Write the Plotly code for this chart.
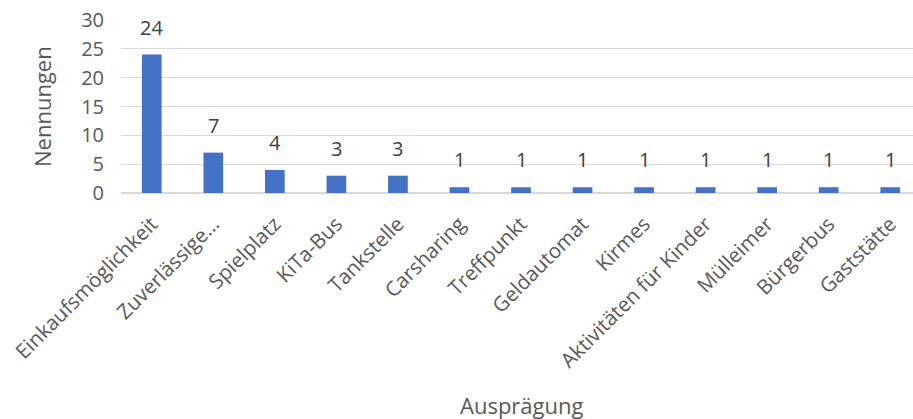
import plotly.graph_objects as go

categories = ["Einkaufsmöglichkeit", "Zuverlässige…", "Spielplatz", "KiTa-Bus", "Tankstelle",
              "Carsharing", "Treffpunkt", "Geldautomat", "Kirmes", "Aktivitäten für Kinder",
              "Mülleimer", "Bürgerbus", "Gaststätte"]
values = [24, 7, 4, 3, 3, 1, 1, 1, 1, 1, 1, 1, 1]
y_ticks = [0, 5, 10, 15, 20, 25, 30]

FONT = "Open Sans"
TXT = "#595959"

PL, PT, PB_Y = 121, 20, 193  # plot left, top, bottom in window pixels
W, H = 913, 419

fig = go.Figure()
fig.add_trace(go.Bar(
    x=list(range(len(categories))), y=values,
    marker=dict(color="#4472C4", line=dict(width=0)),
    width=0.32,
    hoverinfo="skip",
))

annotations = []
for i, v in enumerate(values):
    annotations.append(dict(x=i, y=v, xref="x", yref="y", text=str(v), showarrow=False,
                            yanchor="bottom", yshift=12,
                            font=dict(family=FONT, size=20, color="#404040")))

plot_h = PB_Y - PT
plot_w = W - PL
annotations.append(dict(x=(521 - PL) / plot_w, y=-(405 - PB_Y) / plot_h, xref="paper", yref="paper",
                        xanchor="center", yanchor="middle",
                        text="Ausprägung", showarrow=False,
                        font=dict(family=FONT, size=22, color=TXT)))
annotations.append(dict(x=-(PL - 42) / plot_w, y=(PB_Y - 107) / plot_h, xref="paper", yref="paper",
                        xanchor="center", yanchor="middle",
                        text="Nennungen", textangle=-90, showarrow=False,
                        font=dict(family=FONT, size=22, color=TXT)))

fig.update_layout(
    width=W, height=H,
    margin=dict(l=PL, r=0, t=PT, b=H - PB_Y, autoexpand=False),
    paper_bgcolor="white", plot_bgcolor="white",
    showlegend=False,
    annotations=annotations,
    xaxis=dict(
        range=[-0.5, 12.5 - 8 / 61.5],
        tickmode="array", tickvals=list(range(len(categories))), ticktext=categories,
        tickangle=-45, ticks="", showgrid=False, zeroline=False, showline=False,
        tickfont=dict(family=FONT, size=20.5, color=TXT),
        ticklabelstandoff=14, automargin=False, ticklabeloverflow="allow",
    ),
    yaxis=dict(
        range=[0, 30], tickmode="array", tickvals=y_ticks,
        showgrid=True, gridcolor="#d9d9d9", gridwidth=1.3,
        zeroline=True, zerolinecolor="#d9d9d9", zerolinewidth=1.3,
        showline=False, ticks="",
        tickfont=dict(family=FONT, size=20, color=TXT),
        ticklabelstandoff=16, automargin=False, ticklabeloverflow="allow",
    ),
)

fig.write_html("out.html", config={"displayModeBar": False, "staticPlot": True},
               post_script="document.body.style.margin='0';document.body.style.overflow='hidden';")
